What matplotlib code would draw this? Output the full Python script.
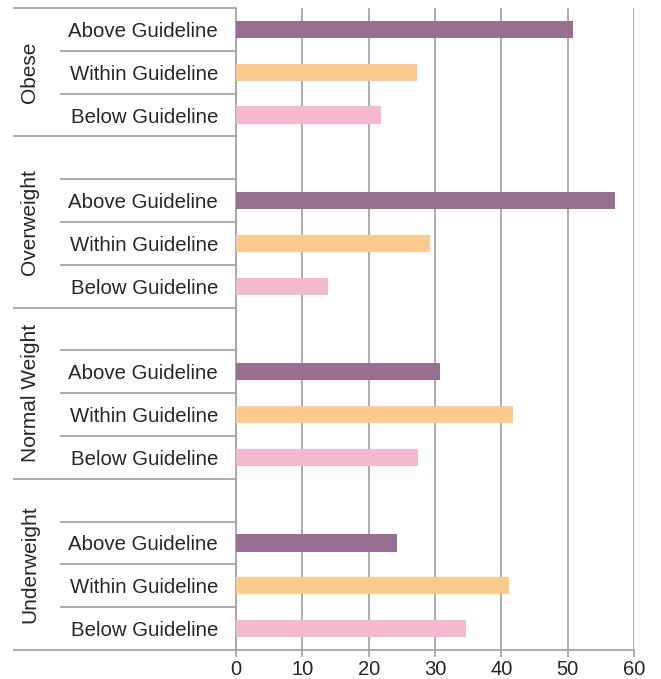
import matplotlib
matplotlib.use("Agg")
import matplotlib.pyplot as plt
from matplotlib.transforms import blended_transform_factory

# Share of respondents by weight class and guideline status (%)
groups = ["Underweight", "Normal Weight", "Overweight", "Obese"]
levels = ["Below Guideline", "Within Guideline", "Above Guideline"]
below = [34.6, 27.5, 13.8, 21.8]
within = [41.1, 41.7, 29.2, 27.3]
above = [24.3, 30.7, 57.2, 50.8]
x_ticks = [0, 10, 20, 30, 40, 50, 60]

colors = {"Below Guideline": "#F5B9CF",
          "Within Guideline": "#FDCA8E",
          "Above Guideline": "#97708F"}
grid_col = "#A6A6A6"
text_col = "#262626"

plt.rcParams["font.family"] = ["Liberation Sans", "DejaVu Sans"]

fig = plt.figure(figsize=(6.61, 6.79), dpi=100)
ax = fig.add_axes([236 / 661, 1 - 650 / 679, 398 / 661, 642 / 679])

values = {"Below Guideline": below, "Within Guideline": within, "Above Guideline": above}

# each group occupies 3 slots plus one spacer slot above it (except the top group)
positions, labels = [], []
for g, name in enumerate(groups):
    base = g * 4
    for k, lev in enumerate(levels):
        y = base + k
        ax.barh(y, values[lev][g], height=0.4, color=colors[lev], zorder=3)
        positions.append(y)
        labels.append(lev)

n_slots = 4 * len(groups) - 1
ax.set_ylim(-0.5, n_slots - 0.5)
ax.set_xlim(0, 60)

ax.set_yticks(positions)
ax.set_yticklabels(labels, fontsize=14.7, color=text_col)
ax.tick_params(axis="y", length=0, pad=13)
ax.set_xticks(x_ticks)
ax.set_xticklabels([str(t) for t in x_ticks], fontsize=14.5, color=text_col)
ax.tick_params(axis="x", length=5, width=1.3, color=grid_col, pad=2)

ax.grid(axis="x", color=grid_col, linewidth=1.3, zorder=0)
for s in ["top", "right"]:
    ax.spines[s].set_visible(False)
ax.spines["left"].set_color(grid_col)
ax.spines["left"].set_linewidth(1.3)
ax.spines["bottom"].set_color(grid_col)
ax.spines["bottom"].set_linewidth(1.3)

# category divider lines drawn into the label area
tr = blended_transform_factory(fig.transFigure, ax.transData)
x_end = 236 / 661
x_full = 13 / 661
x_short = 60 / 661
boundaries_full = [n_slots - 0.5] + [g * 4 - 0.5 for g in range(len(groups))]
boundaries_short = []
for g in range(len(groups)):
    base = g * 4
    boundaries_short += [base + 0.5, base + 1.5]
    if g < len(groups) - 1:
        boundaries_short.append(base + 2.5)
for y in boundaries_full:
    ax.plot([x_full, x_end], [y, y], transform=tr, color=grid_col,
            linewidth=1.3, clip_on=False, solid_capstyle="butt")
for y in boundaries_short:
    ax.plot([x_short, x_end], [y, y], transform=tr, color=grid_col,
            linewidth=1.3, clip_on=False, solid_capstyle="butt")

# group labels, rotated, centred on each group's span
for g, name in enumerate(groups):
    lo = g * 4 - 0.5
    hi = min(g * 4 + 3.5, n_slots - 0.5)
    ax.text(30 / 661, (lo + hi) / 2, name, transform=tr, rotation=90,
            ha="center", va="center", fontsize=15, color=text_col)

fig.savefig("out.png", dpi=100, facecolor="white")
